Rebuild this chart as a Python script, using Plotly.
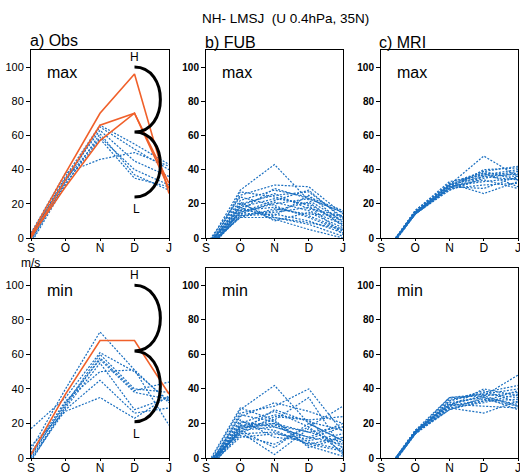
import plotly.graph_objects as go

months = ["S", "O", "N", "D", "J"]
xpos = [0, 1, 2, 3, 4]

# Obs, max of U (m/s)
obs_max_orange = [
    [2, 38, 73, 96, 26],
    [0, 34, 66, 73, 29],
    [1, 30, 57, 73, 32],
]
obs_max_blue = [
    [1, 36, 66, 55, 43],
    [-2, 33, 65, 52, 40],
    [0, 35, 63, 45, 36],
    [-3, 31, 61, 37, 28],
    [2, 34, 59, 40, 31],
    [-1, 32, 58, 35, 30],
    [3, 38, 46, 50, 42],
]
# Obs, min of U
obs_min_orange = [
    [2, 37, 68, 68, 37],
]
obs_min_blue = [
    [5, 40, 73, 51, 19],
    [17, 35, 61, 50, 33],
    [2, 31, 60, 40, 38],
    [-2, 30, 58, 39, 44],
    [0, 29, 55, 28, 35],
    [3, 33, 50, 51, 32],
    [-1, 28, 45, 26, 29],
    [7, 27, 35, 23, 36],
    [1, 32, 57, 38, 34],
]

fub_max = [
    [-6, 28, 43, 22, 10], [-8, 25, 31, 30, 14], [-5, 22, 28, 24, 16],
    [-7, 20, 25, 27, 12], [-9, 18, 23, 20, 8], [-4, 15, 20, 23, 15],
    [-10, 16, 18, 13, 5], [-6, 14, 15, 18, 10], [-8, 13, 14, 10, 3],
    [-5, 12, 12, 8, 1], [-7, 21, 10, 15, 6], [-9, 19, 26, 17, 13],
    [-6, 17, 13, 25, 9], [-4, 24, 19, 12, 4], [-8, 15, 22, 28, 11],
    [-7, 13, 16, 21, 7], [-5, 18, 11, 5, 0], [-10, 27, 24, 19, 2],
    [-6, 12, 17, 14, 13], [-8, 16, 29, 23, 15], [-3, 14, 21, 16, 8],
    [-7, 20, 12, 9, 5],
]
fub_min = [
    [-6, 28, 42, 20, 10], [-8, 26, 30, 40, 15], [-5, 29, 22, 35, 5],
    [-7, 24, 32, 27, 20], [-9, 20, 27, 18, 30], [-4, 18, 25, 22, 24],
    [-10, 17, 20, 15, 18], [-6, 16, 18, 12, 8], [-8, 14, 15, 8, 12],
    [-5, 13, 8, 18, 3], [-7, 22, 12, 10, 14], [-9, 19, 20, 7, 1],
    [-6, 16, 6, 20, 10], [-4, 15, 2, 17, 6], [-8, 17, 22, 6, 12],
    [-7, 21, 18, 12, 20], [-5, 15, 28, 21, 16], [-10, 25, 21, 9, 5],
    [-6, 12, 14, 11, 18], [-8, 18, 19, 15, 9], [-3, 14, 24, 22, 2],
    [-7, 19, 16, 8, 4],
]
mri_max = [
    [-12, 15, 31, 48, 36], [-13, 14, 29, 40, 41], [-12, 15, 32, 39, 42],
    [-11, 14, 30, 38, 37], [-12, 16, 33, 37, 40], [-13, 15, 31, 36, 34],
    [-12, 14, 28, 35, 38], [-11, 15, 30, 33, 35], [-12, 14, 29, 31, 32],
    [-13, 15, 30, 29, 36], [-12, 16, 32, 26, 33], [-11, 14, 31, 38, 30],
    [-12, 15, 28, 36, 39], [-13, 14, 30, 34, 29], [-12, 15, 29, 37, 36],
    [-12, 16, 31, 39, 34],
]
mri_min = [
    [-12, 15, 31, 36, 48], [-13, 14, 33, 38, 42], [-12, 16, 35, 37, 40],
    [-11, 15, 35, 36, 38], [-12, 14, 30, 40, 36], [-13, 15, 28, 33, 34],
    [-12, 14, 29, 26, 33], [-11, 15, 32, 35, 31], [-12, 16, 30, 34, 30],
    [-13, 15, 31, 30, 29], [-12, 14, 28, 35, 28], [-11, 15, 34, 37, 35],
    [-12, 15, 29, 32, 37], [-13, 14, 33, 39, 32], [-12, 16, 31, 36, 30],
    [-12, 15, 30, 33, 39],
]

# brace (H/L range) drawn at D in the Obs panels: top, middle, bottom
brace_max = [100, 62, 24]
brace_min = [100, 62, 21]

BLUE = "#1a6fc0"
ORANGE = "#f0602a"
W, H = 520, 475

fig = go.Figure()

def add_lines(rows, n, color, dash):
    for r in rows:
        fig.add_trace(go.Scatter(
            x=xpos, y=r, mode="lines",
            line=dict(color=color, width=1.2 if dash else 1.6, dash=dash),
            xaxis="x" + str(n), yaxis="y" + str(n),
            showlegend=False, hoverinfo="skip"))

DOT = "2px,1.5px"
add_lines(obs_max_blue, 1, BLUE, DOT)
add_lines(obs_max_orange, 1, ORANGE, None)
add_lines(fub_max, 2, BLUE, DOT)
add_lines(mri_max, 3, BLUE, DOT)
add_lines(obs_min_blue, 4, BLUE, DOT)
add_lines(obs_min_orange, 4, ORANGE, None)
add_lines(fub_min, 5, BLUE, DOT)
add_lines(mri_min, 6, BLUE, DOT)

# panel pixel boxes: left, right / top, bottom
cols = [(31, 169), (206, 343), (381, 518)]
rows_px = [(50, 238), (268, 458)]

def fx(p):
    return p / W

def fy(p):
    return 1 - p / H

layout = dict(width=W, height=H, margin=dict(l=0, r=0, t=0, b=0),
              template="none",
              plot_bgcolor="white", paper_bgcolor="white",
              font=dict(family="Liberation Sans, Arial, sans-serif", color="black"))
n = 0
for ri, (top, bot) in enumerate(rows_px):
    for ci, (left, right) in enumerate(cols):
        n += 1
        bold = ci > 0
        layout["xaxis" + str(n)] = dict(
            domain=[fx(left), fx(right)], range=[0, 4],
            tickvals=xpos, ticktext=months, ticks="outside", ticklen=2,
            ticklabelstandoff=-3, ticklabeloverflow="allow",
            tickcolor="black", tickfont=dict(size=12, color="black"),
            showgrid=False, zeroline=False,
            showline=True, linecolor="black", linewidth=1, mirror=True,
            anchor="y" + str(n), fixedrange=True)
        layout["yaxis" + str(n)] = dict(
            domain=[fy(bot), fy(top)], range=[0, 110],
            tickvals=[0, 20, 40, 60, 80, 100], ticks="outside", ticklen=4,
            tickcolor="black",
            tickfont=dict(size=10 if bold else 11, color="black",
                          family="Liberation Sans Narrow, Liberation Sans, Arial",
                          weight="bold" if bold else "normal"),
            showgrid=False, zeroline=False,
            showline=True, linecolor="black", linewidth=1, mirror=True,
            anchor="x" + str(n), fixedrange=True)
fig.update_layout(**layout)

shapes = []
annotations = []
for n_ax, (t, m, b) in [(1, brace_max), (4, brace_min)]:
    d = 3
    bx = d + 1.0
    path = (f"M {d},{t} C {bx},{t} {bx},{m} {d},{m} "
            f"C {bx},{m} {bx},{b} {d},{b}")
    shapes.append(dict(type="path", path=path, xref="x" + str(n_ax), yref="y" + str(n_ax),
                       line=dict(color="black", width=3)))
    annotations.append(dict(x=d, y=t + 6, xref="x" + str(n_ax), yref="y" + str(n_ax),
                            text="H", showarrow=False, font=dict(size=12)))
    annotations.append(dict(x=d + 0.05, y=b - 7, xref="x" + str(n_ax), yref="y" + str(n_ax),
                            text="L", showarrow=False, font=dict(size=12)))

def px_note(x, y, text, size, xanchor="left"):
    annotations.append(dict(x=fx(x), y=fy(y), xref="paper", yref="paper",
                            text=text, showarrow=False, xanchor=xanchor, yanchor="middle",
                            font=dict(size=size)))

px_note(285, 18, "NH- LMSJ\u00a0\u00a0(U 0.4hPa, 35N)", 13.5, "center")
px_note(28, 40, "a) Obs", 16)
px_note(203, 42, "b) FUB", 16)
px_note(377, 42, "c) MRI", 16)
for (left, right) in cols:
    px_note(left + 14, 73, "max", 16)
    px_note(left + 14, 290, "min", 16)
px_note(19, 263, "m/s", 12)

fig.update_layout(shapes=shapes, annotations=annotations)
# drop the default page margin so the figure fills the window
fig.write_html("out.html", config={"displayModeBar": False},
               post_script="document.body.style.margin='0';")
